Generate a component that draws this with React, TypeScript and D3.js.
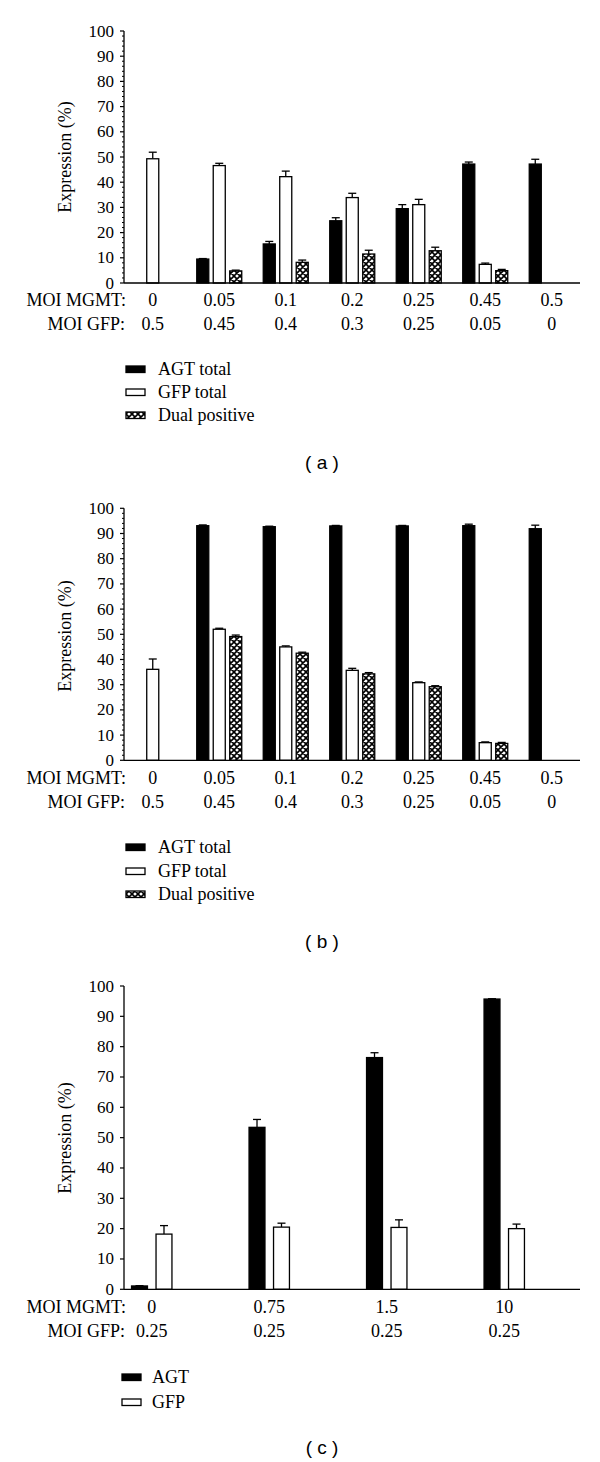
import React from "react";
import * as d3 from "d3";

// ---------- Data ----------
const mgmtA = ["0", "0.05", "0.1", "0.2", "0.25", "0.45", "0.5"];
const gfpLabelsA = ["0.5", "0.45", "0.4", "0.3", "0.25", "0.05", "0"];
const agtA = [0, 9.5, 15.5, 24.7, 29.5, 47.2, 47.2];
const agtErrA = [0, 0.2, 1.0, 1.2, 1.6, 0.8, 1.9];
const gfpA = [49.3, 46.6, 42.2, 33.9, 31.1, 7.4, 0];
const gfpErrA = [2.6, 0.9, 2.2, 1.7, 2.1, 0.5, 0];
const dualA = [0, 4.8, 8.2, 11.5, 12.8, 4.9, 0];
const dualErrA = [0, 0.3, 0.9, 1.5, 1.4, 0.5, 0];

const mgmtB = ["0", "0.05", "0.1", "0.2", "0.25", "0.45", "0.5"];
const gfpLabelsB = ["0.5", "0.45", "0.4", "0.3", "0.25", "0.05", "0"];
const agtB = [0, 93.1, 92.7, 93.0, 93.0, 93.1, 91.9];
const agtErrB = [0, 0.3, 0.2, 0.2, 0.2, 0.6, 1.4];
const gfpB = [36.1, 52.0, 45.0, 35.7, 30.8, 7.0, 0];
const gfpErrB = [4.1, 0.4, 0.4, 0.8, 0.3, 0.3, 0];
const dualB = [0, 49.1, 42.5, 34.3, 29.2, 6.7, 0];
const dualErrB = [0, 0.6, 0.4, 0.5, 0.4, 0.4, 0];

const mgmtC = ["0", "0.75", "1.5", "10"];
const gfpLabelsC = ["0.25", "0.25", "0.25", "0.25"];
const agtC = [1.1, 53.4, 76.4, 95.7];
const agtErrC = [0.1, 2.6, 1.6, 0.1];
const gfpC = [18.2, 20.5, 20.4, 20.0];
const gfpErrC = [2.8, 1.3, 2.5, 1.5];

const legendABC = ["AGT total", "GFP total", "Dual positive"];
const legendC = ["AGT", "GFP"];
const yTickValues = [0, 10, 20, 30, 40, 50, 60, 70, 80, 90, 100];

const SERIF = "'Liberation Serif', 'Times New Roman', serif";
const SANS = "'Liberation Sans', Arial, sans-serif";

type Kind = "black" | "white" | "hatch";

interface SeriesDef {
  values: number[];
  errs: number[];
  kind: Kind;
}

function fillFor(kind: Kind) {
  if (kind === "black") return "#000";
  if (kind === "white") return "#fff";
  return "url(#crosshatch)";
}

interface PanelProps {
  yTop: number;
  yBottom: number;
  xRange: [number, number];
  subRange: [number, number];
  subPadding: number;
  categories: string[];
  gfpLabels: string[];
  series: SeriesDef[];
  minorTicks: boolean;
  rowMgmt: number;
  rowGfp: number;
  titleY: number;
}

function Panel(p: PanelProps) {
  const axisX = 124;
  const y = d3.scaleLinear().domain([0, 100]).range([p.yBottom, p.yTop]);
  const x = d3.scaleBand<string>().domain(p.categories).range(p.xRange).paddingInner(0).paddingOuter(0);
  const sub = d3
    .scaleBand<number>()
    .domain(p.series.map((_, i) => i))
    .range(p.subRange)
    .paddingInner(p.subPadding)
    .paddingOuter(0);
  const minor = p.minorTicks ? d3.range(0, 101, 2).filter((v) => v % 10 !== 0) : [];
  const bw = sub.bandwidth();
  return (
    <g>
      {p.series.map((s, si) =>
        p.categories.map((c, ci) => {
          const cx = (x(c) as number) + x.bandwidth() / 2;
          const bx = cx + (sub(si) as number);
          const v = s.values[ci];
          const top = y(v);
          const errTop = y(v + s.errs[ci]);
          const bcx = bx + bw / 2;
          return (
            <g key={`${si}-${ci}`}>
              {s.errs[ci] > 0 && (
                <g stroke="#000" strokeWidth={1.3}>
                  <line x1={bcx} x2={bcx} y1={top} y2={errTop} />
                  <line x1={bcx - 4} x2={bcx + 4} y1={errTop} y2={errTop} />
                </g>
              )}
              <rect
                x={bx}
                y={top}
                width={bw}
                height={Math.max(0, p.yBottom - top)}
                fill={fillFor(s.kind)}
                stroke={v === 0 ? "#bbb" : "#000"}
                strokeWidth={v === 0 ? 0.8 : 1.3}
              />
            </g>
          );
        })
      )}
      <line x1={axisX} x2={axisX} y1={p.yTop} y2={p.yBottom} stroke="#000" strokeWidth={1.3} />
      <line x1={axisX} x2={580} y1={p.yBottom} y2={p.yBottom} stroke="#000" strokeWidth={1.3} />
      {yTickValues.map((t) => (
        <g key={t}>
          <line x1={axisX - 4} x2={axisX} y1={y(t)} y2={y(t)} stroke="#000" strokeWidth={1.2} />
          <text x={axisX - 10} y={y(t) + 5.5} textAnchor="end" fontFamily={SERIF} fontSize={17} fill="#000">
            {t}
          </text>
        </g>
      ))}
      {minor.map((t) => (
        <line key={"m" + t} x1={axisX - 2} x2={axisX} y1={y(t)} y2={y(t)} stroke="#000" strokeWidth={1} />
      ))}
      <text
        transform={`translate(71,${p.titleY}) rotate(-90)`}
        textAnchor="middle"
        fontFamily={SERIF}
        fontSize={18}
        fill="#000"
      >
        Expression (%)
      </text>
      <text x={126} y={p.rowMgmt} textAnchor="end" fontFamily={SERIF} fontSize={18}>
        MOI MGMT:
      </text>
      <text x={125} y={p.rowGfp} textAnchor="end" fontFamily={SERIF} fontSize={18}>
        MOI GFP:
      </text>
      {p.categories.map((c, ci) => {
        const cx = (x(c) as number) + x.bandwidth() / 2;
        return (
          <g key={"lab" + ci}>
            <text x={cx} y={p.rowMgmt} textAnchor="middle" fontFamily={SERIF} fontSize={18}>
              {c}
            </text>
            <text x={cx} y={p.rowGfp} textAnchor="middle" fontFamily={SERIF} fontSize={18}>
              {p.gfpLabels[ci]}
            </text>
          </g>
        );
      })}
    </g>
  );
}

interface LegendProps {
  x: number;
  textX: number;
  baselines: number[];
  labels: string[];
  kinds: Kind[];
}

function Legend(p: LegendProps) {
  return (
    <g>
      {p.labels.map((l, i) => (
        <g key={l}>
          <rect
            x={p.x}
            y={p.baselines[i] - 9}
            width={19}
            height={6.5}
            fill={fillFor(p.kinds[i])}
            stroke="#000"
            strokeWidth={1.3}
          />
          <text x={p.textX} y={p.baselines[i]} fontFamily={SERIF} fontSize={18} fill="#000">
            {l}
          </text>
        </g>
      ))}
    </g>
  );
}

function Caption({ y, label }: { y: number; label: string }) {
  return (
    <text x={322} y={y} textAnchor="middle" fontFamily={SANS} fontSize={19} fill="#000" xmlSpace="preserve">
      {`( ${label} )`}
    </text>
  );
}

export default function App() {
  const seriesA: SeriesDef[] = [
    { values: agtA, errs: agtErrA, kind: "black" },
    { values: gfpA, errs: gfpErrA, kind: "white" },
    { values: dualA, errs: dualErrA, kind: "hatch" },
  ];
  const seriesB: SeriesDef[] = [
    { values: agtB, errs: agtErrB, kind: "black" },
    { values: gfpB, errs: gfpErrB, kind: "white" },
    { values: dualB, errs: dualErrB, kind: "hatch" },
  ];
  const seriesC: SeriesDef[] = [
    { values: agtC, errs: agtErrC, kind: "black" },
    { values: gfpC, errs: gfpErrC, kind: "white" },
  ];
  return (
    <svg width={600} height={1462} style={{ position: "absolute", left: 0, top: 0, background: "#fff" }}>
      <defs>
        <pattern id="crosshatch" patternUnits="userSpaceOnUse" width={6} height={6}>
          <rect width={6} height={6} fill="#fff" />
          <path
            d="M0,0 L6,6 M6,0 L0,6 M-1,5 L1,7 M5,-1 L7,1 M-1,1 L1,-1 M5,7 L7,5"
            stroke="#000"
            strokeWidth={1.6}
          />
        </pattern>
      </defs>
      <rect width={600} height={1462} fill="#fff" />
      <Panel
        yTop={31}
        yBottom={283}
        xRange={[119.5, 585]}
        subRange={[-22.5, 22.5]}
        subPadding={0.27}
        categories={mgmtA}
        gfpLabels={gfpLabelsA}
        series={seriesA}
        minorTicks={true}
        rowMgmt={306}
        rowGfp={330}
        titleY={157}
      />
      <Legend x={126} textX={158} baselines={[375, 398, 421]} labels={legendABC} kinds={["black", "white", "hatch"]} />
      <Caption y={469} label="a" />
      <Panel
        yTop={508.3}
        yBottom={760.3}
        xRange={[119.5, 585]}
        subRange={[-22.5, 22.5]}
        subPadding={0.27}
        categories={mgmtB}
        gfpLabels={gfpLabelsB}
        series={seriesB}
        minorTicks={true}
        rowMgmt={783.5}
        rowGfp={807.5}
        titleY={636}
      />
      <Legend x={126} textX={158} baselines={[853, 877, 900]} labels={legendABC} kinds={["black", "white", "hatch"]} />
      <Caption y={948} label="b" />
      <Panel
        yTop={986}
        yBottom={1289.3}
        xRange={[93, 563]}
        subRange={[-20.2, 20.2]}
        subPadding={0.35}
        categories={mgmtC}
        gfpLabels={gfpLabelsC}
        series={seriesC}
        minorTicks={false}
        rowMgmt={1313}
        rowGfp={1337}
        titleY={1138}
      />
      <Legend x={122} textX={152} baselines={[1383, 1408]} labels={legendC} kinds={["black", "white"]} />
      <Caption y={1454} label="c" />
    </svg>
  );
}
